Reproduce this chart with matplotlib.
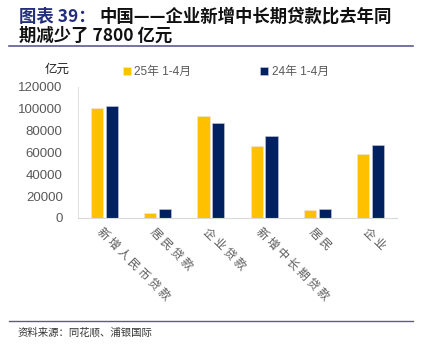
import matplotlib.pyplot as plt
from matplotlib.lines import Line2D
import numpy as np

plt.rcParams['font.family'] = ['Noto Sans CJK SC', 'DejaVu Sans']

categories = ['新增人民币贷款', '居民贷款', '企业贷款', '新增中长期贷款', '居民', '企业']
y2025 = [100600, 4800, 93000, 66000, 7500, 58500]
y2024 = [102000, 8500, 87000, 74800, 8500, 66700]
series_names = ['25年 1-4月', '24年 1-4月']
yticks = [0, 20000, 40000, 60000, 80000, 100000, 120000]

YELLOW = '#FFC000'
NAVY = '#002060'
GREY = '#595959'
W, H = 422, 349

fig = plt.figure(figsize=(W / 100, H / 100), dpi=100)
ax = fig.add_axes([78 / W, 1 - 218 / H, 319 / W, 131.5 / H])

x = np.arange(len(categories))
w = 0.23
ax.bar(x - 0.14, y2025, width=w, color=YELLOW, edgecolor='#e8e8e8', linewidth=0.4,
       label=series_names[0])
ax.bar(x + 0.14, y2024, width=w, color=NAVY, edgecolor='#c8cce0', linewidth=0.4,
       label=series_names[1])

ax.set_xlim(-0.5, len(categories) - 0.5)
ax.set_ylim(0, 120000)
ax.set_yticks(yticks)
ax.set_yticklabels([str(v) for v in yticks], family='Liberation Sans',
                   fontsize=9.5, color=GREY)
ax.tick_params(axis='y', length=0, pad=11)
ax.tick_params(axis='x', length=0, pad=5)
ax.set_xticks(x - 0.02)
ax.set_xticklabels([' '.join(c) for c in categories], rotation=-45, ha='left',
                   va='top', rotation_mode='anchor', fontsize=8.4, color=GREY)
for s in ['top', 'right']:
    ax.spines[s].set_visible(False)
ax.spines['left'].set_color('#e3e3e3')
ax.spines['bottom'].set_color('#d9d9d9')

fig.legend(loc='center left', bbox_to_anchor=(112 / W, 1 - 72 / H), ncol=2,
           frameon=False, labelcolor=GREY, handlelength=0.7,
           handleheight=0.7, handletextpad=0.3, columnspacing=5.8,
           prop={'family': ['Liberation Sans', 'Noto Sans CJK SC'], 'size': 8.5})

fig.text(45 / W, 1 - 69 / H, '亿元', fontsize=9, color='#222222', va='center')

# title block
tsize = 12.5
fig.text(19 / W, 1 - 22 / H, '图表 39：', fontsize=tsize, fontweight='bold',
         color='#232F7E', va='baseline')
fig.text(99 / W, 1 - 22 / H, '中国——企业新增中长期贷款比去年同',
         fontsize=tsize, fontweight='bold', color='#111111', va='baseline')
fig.text(19 / W, 1 - 41 / H, '期减少了 7800 亿元', fontsize=tsize,
         fontweight='bold', color='#111111', va='baseline')
fig.add_artist(Line2D([9 / W, 413 / W], [1 - 46 / H, 1 - 46 / H],
                      color='#5E5A8F', linewidth=1.2))

fig.add_artist(Line2D([9 / W, 413 / W], [1 - 321 / H, 1 - 321 / H],
                      color='#5E5A8F', linewidth=1.0))
fig.text(18 / W, 1 - 332 / H, '资料来源：同花顺、浦银国际', fontsize=7.5,
         color='#333333', va='center')

fig.savefig('out.png', dpi=100)
